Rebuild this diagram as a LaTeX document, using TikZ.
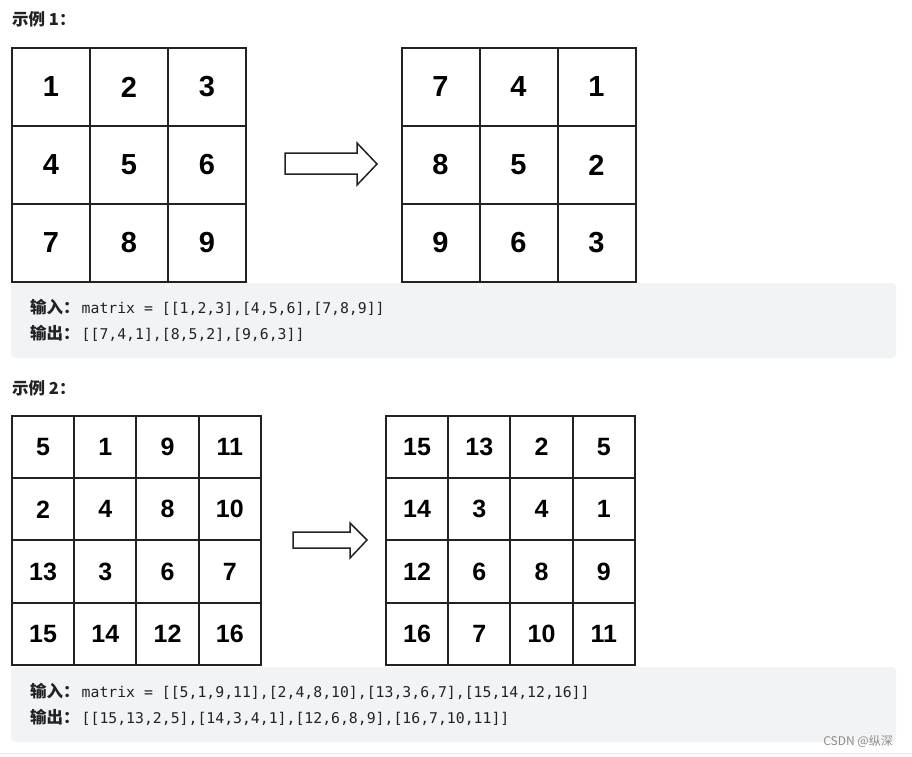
\documentclass[tikz,border=0pt]{standalone}
\usepackage{fontspec}
\setmainfont{Liberation Sans}
\newfontfamily\cjk{Noto Sans CJK SC}
\newfontfamily\codefont{DejaVu Sans Mono}
\definecolor{boxgray}{HTML}{F2F3F5}
\definecolor{txt}{HTML}{222222}
\definecolor{gridline}{HTML}{222222}
\tikzset{
  cellA/.style={draw=gridline, line width=2pt, minimum size=78pt, inner sep=0pt,
    font=\fontsize{29}{29}\selectfont\bfseries},
  cellB/.style={draw=gridline, line width=2pt, minimum size=62.25pt, inner sep=0pt,
    font=\fontsize{25}{25}\selectfont\bfseries},
  heading/.style={anchor=base west, inner sep=0pt, text=txt, font=\cjk\bfseries\fontsize{16.5}{16.5}\selectfont},
  label/.style={anchor=base west, inner sep=0pt, text=txt, font=\cjk\bfseries\fontsize{16.5}{16.5}\selectfont},
  code/.style={anchor=base west, inner sep=0pt, text=txt, font=\codefont\fontsize{14.8}{14.8}\selectfont},
  bigarrow/.style={draw=gridline, line width=1.5pt, fill=white, line join=miter},
  codebox/.style={fill=boxgray, draw=none, rounded corners=4pt}
}
\begin{document}
\begin{tikzpicture}[x=1pt,y=-1pt]
\useasboundingbox[fill=white] (0,0) rectangle (912,756);

% ---------- Example 1 ----------
\node[heading] (h1) at (12,25) {示例 1：};

\foreach \v [count=\k from 0] in {1,2,3,4,5,6,7,8,9}{
  \pgfmathtruncatemacro\r{int(\k/3)}
  \pgfmathtruncatemacro\c{mod(\k,3)}
  \node[cellA] (a\k) at ({51+78*\c},{87+78*\r}) {\v};
}
\foreach \v [count=\k from 0] in {7,4,1,8,5,2,9,6,3}{
  \pgfmathtruncatemacro\r{int(\k/3)}
  \pgfmathtruncatemacro\c{mod(\k,3)}
  \node[cellA] (b\k) at ({440.5+78*\c},{87+78*\r}) {\v};
}

\draw[bigarrow] (285,153) -- (357,153) -- (357,143) -- (377,164) -- (357,185) -- (357,174) -- (285,174) -- cycle;

\fill[codebox] (11,283) rectangle (896,358);
\node[label] (in1) at (30,313) {输入：};
\node[code] (in1c) at (81.5,313) {matrix = [[1,2,3],[4,5,6],[7,8,9]]};
\node[label] (out1) at (30,339) {输出：};
\node[code] (out1c) at (81.5,339) {[[7,4,1],[8,5,2],[9,6,3]]};

% ---------- Example 2 ----------
\node[heading] (h2) at (12,394) {示例 2：};

\foreach \v [count=\k from 0] in {5,1,9,11,2,4,8,10,13,3,6,7,15,14,12,16}{
  \pgfmathtruncatemacro\r{int(\k/4)}
  \pgfmathtruncatemacro\c{mod(\k,4)}
  \node[cellB] (c\k) at ({43.1+62.25*\c},{447.1+62.25*\r}) {\v};
}
\foreach \v [count=\k from 0] in {15,13,2,5,14,3,4,1,12,6,8,9,16,7,10,11}{
  \pgfmathtruncatemacro\r{int(\k/4)}
  \pgfmathtruncatemacro\c{mod(\k,4)}
  \node[cellB] (d\k) at ({417.1+62.25*\c},{447.1+62.25*\r}) {\v};
}

\draw[bigarrow] (293,532) -- (350,532) -- (350,523) -- (367,540) -- (350,558) -- (350,548) -- (293,548) -- cycle;

\fill[codebox] (11,667) rectangle (896,742);
\node[label] (in2) at (30,697) {输入：};
\node[code] (in2c) at (81.5,697) {matrix = [[5,1,9,11],[2,4,8,10],[13,3,6,7],[15,14,12,16]]};
\node[label] (out2) at (30,723) {输出：};
\node[code] (out2c) at (81.5,723) {[[15,13,2,5],[14,3,4,1],[12,6,8,9],[16,7,10,11]]};

\draw[draw=black!9, line width=1pt] (0,753) -- (912,753);
\node[anchor=base east, inner sep=0pt, text=black!45, font=\cjk\fontsize{12}{12}\selectfont] (wm) at (893,745) {CSDN @纵深};
\end{tikzpicture}
\end{document}
